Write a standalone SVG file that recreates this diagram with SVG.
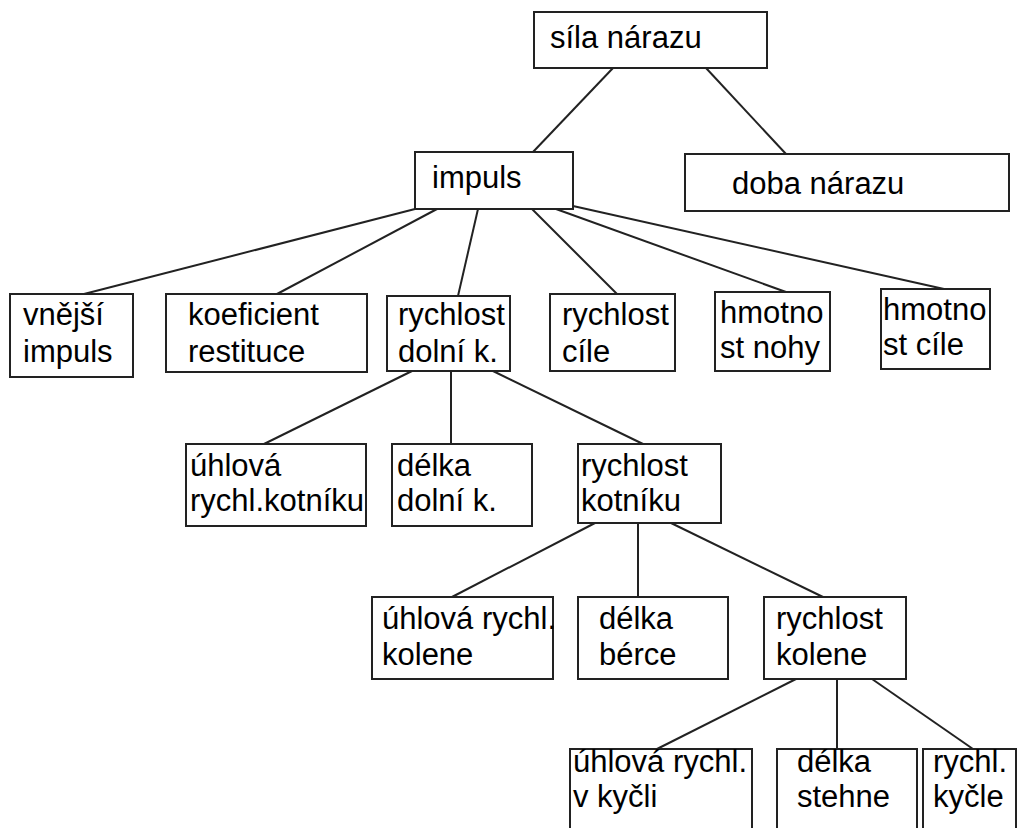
<svg xmlns="http://www.w3.org/2000/svg" width="1023" height="828" viewBox="0 0 1023 828">
<style>
rect{fill:#fff;stroke:#222;stroke-width:2}
text{font-family:"Liberation Sans",Arial,sans-serif;font-size:31px;fill:#000}
#connectors line{stroke:#222;stroke-width:2}
</style>
<rect x="0" y="0" width="1023" height="828" style="stroke:none"/>
<g id="connectors">
<line x1="613" y1="68" x2="533" y2="152"/>
<line x1="706" y1="68" x2="786" y2="154"/>
<line x1="415" y1="209" x2="84" y2="294"/>
<line x1="437" y1="209" x2="277" y2="294"/>
<line x1="478" y1="209" x2="458" y2="296"/>
<line x1="532" y1="209" x2="617" y2="294"/>
<line x1="556" y1="209" x2="786" y2="292"/>
<line x1="573" y1="206" x2="944" y2="289"/>
<line x1="412" y1="371" x2="264" y2="444"/>
<line x1="451" y1="371" x2="451" y2="444"/>
<line x1="493" y1="371" x2="643" y2="444"/>
<line x1="595" y1="523" x2="452" y2="597"/>
<line x1="638" y1="523" x2="638" y2="597"/>
<line x1="671" y1="523" x2="823" y2="597"/>
<line x1="796" y1="679" x2="657" y2="749"/>
<line x1="837" y1="679" x2="837" y2="749"/>
<line x1="872" y1="679" x2="973" y2="749"/>
</g>
<g id="sila-narazu"><rect x="534" y="12" width="233" height="56"/><text x="550" y="48">síla nárazu</text></g>
<g id="impuls"><rect x="415" y="152" width="158" height="57"/><text x="432" y="188">impuls</text></g>
<g id="doba-narazu"><rect x="685" y="154" width="324" height="57"/><text x="732" y="194">doba nárazu</text></g>
<g id="vnejsi-impuls"><rect x="10" y="294" width="123" height="83"/><text x="23" y="325">vnější</text><text x="23" y="362">impuls</text></g>
<g id="koeficient-restituce"><rect x="166" y="294" width="201" height="78"/><text x="188" y="325">koeficient</text><text x="188" y="362">restituce</text></g>
<g id="rychlost-dolni-k"><rect x="387" y="296" width="123" height="75"/><text x="398" y="325">rychlost</text><text x="398" y="362">dolní k.</text></g>
<g id="rychlost-cile"><rect x="550" y="294" width="125" height="77"/><text x="562" y="325">rychlost</text><text x="562" y="362">cíle</text></g>
<g id="hmotnost-nohy"><rect x="715" y="292" width="115" height="79"/><text x="720" y="323">hmotno</text><text x="720" y="358">st nohy</text></g>
<g id="hmotnost-cile"><rect x="881" y="289" width="109" height="80"/><text x="883" y="320">hmotno</text><text x="883" y="355">st cíle</text></g>
<g id="uhlova-rychl-kotniku"><rect x="186" y="444" width="180" height="82"/><text x="190" y="476">úhlová</text><text x="190" y="511">rychl.kotníku</text></g>
<g id="delka-dolni-k"><rect x="392" y="444" width="140" height="82"/><text x="397" y="476">délka</text><text x="397" y="511">dolní k.</text></g>
<g id="rychlost-kotniku"><rect x="578" y="444" width="143" height="79"/><text x="581" y="476">rychlost</text><text x="581" y="511">kotníku</text></g>
<g id="uhlova-rychl-kolene"><rect x="372" y="597" width="181" height="82"/><text x="382" y="629">úhlová rychl.</text><text x="382" y="665">kolene</text></g>
<g id="delka-berce"><rect x="578" y="597" width="150" height="82"/><text x="599" y="629">délka</text><text x="599" y="665">bérce</text></g>
<g id="rychlost-kolene"><rect x="764" y="597" width="142" height="82"/><text x="776" y="629">rychlost</text><text x="776" y="665">kolene</text></g>
<g id="uhlova-rychl-v-kycli"><rect x="570" y="749" width="182" height="100"/><text x="573" y="772">úhlová rychl.</text><text x="573" y="807">v kyčli</text></g>
<g id="delka-stehne"><rect x="777" y="749" width="140" height="100"/><text x="797" y="772">délka</text><text x="797" y="807">stehne</text></g>
<g id="rychl-kycle"><rect x="923" y="749" width="93" height="100"/><text x="933" y="772">rychl.</text><text x="933" y="807">kyčle</text></g>
</svg>
